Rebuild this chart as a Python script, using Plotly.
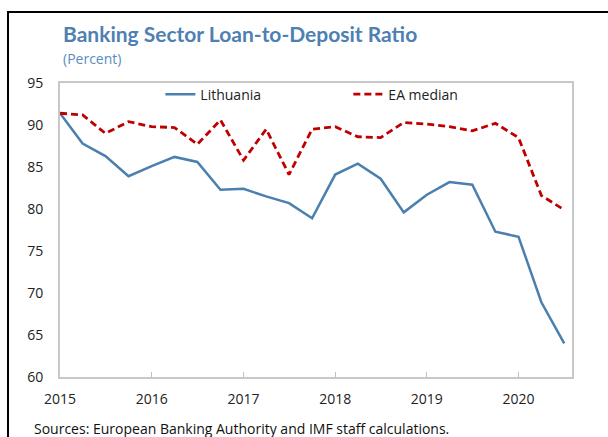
import pandas as pd
import plotly.graph_objects as go

QUARTERS = ['2015Q1', '2015Q2', '2015Q3', '2015Q4',
            '2016Q1', '2016Q2', '2016Q3', '2016Q4',
            '2017Q1', '2017Q2', '2017Q3', '2017Q4',
            '2018Q1', '2018Q2', '2018Q3', '2018Q4',
            '2019Q1', '2019Q2', '2019Q3', '2019Q4',
            '2020Q1', '2020Q2', '2020Q3']

LITHUANIA = [91.4, 87.8, 86.3, 83.9, 85.1, 86.2, 85.6, 82.3, 82.4, 81.5, 80.7, 78.9,
             84.1, 85.4, 83.6, 79.6, 81.7, 83.2, 82.9, 77.3, 76.7, 68.9, 64.0]

EA_MEDIAN = [91.4, 91.2, 89.0, 90.4, 89.8, 89.7, 87.7, 90.6, 85.8, 89.5, 84.1, 89.5,
             89.8, 88.6, 88.5, 90.3, 90.1, 89.8, 89.3, 90.2, 88.5, 81.6, 79.9]

YEARS = ['2015', '2016', '2017', '2018', '2019', '2020']

BLUE = '#4a7fb0'
RED = '#c00000'
FONT = 'Open Sans, Noto Sans, sans-serif'

dates = pd.PeriodIndex(QUARTERS, freq='Q').start_time

fig = go.Figure()
fig.add_trace(go.Scatter(x=dates, y=LITHUANIA, name='Lithuania', mode='lines',
                         line=dict(color=BLUE, width=2.5)))
fig.add_trace(go.Scatter(x=dates, y=EA_MEDIAN, name='EA median', mode='lines',
                         line=dict(color=RED, width=2.8, dash='7px,4px')))

# plot area: x 60..572, y 83..377 (pixels)
fig.update_layout(
    width=608, height=437,
    margin=dict(l=60, r=36, t=83, b=60),
    paper_bgcolor='white', plot_bgcolor='white',
    font=dict(family=FONT, size=14, color='#222'),
    showlegend=True,
    legend=dict(orientation='h', x=0.196, y=1.015, xanchor='left', yanchor='top',
                bgcolor='rgba(0,0,0,0)', font=dict(size=14, color='#222'),
                entrywidth=143, entrywidthmode='pixels'),
)
fig.update_xaxes(
    range=['2015-01-01', '2020-08-01'],
    tickvals=[f'{y}-01-01' for y in YEARS], ticktext=YEARS,
    ticks='inside', ticklen=5, tickcolor='#c0c0c0',
    showline=True, linecolor='#c8c8c8', linewidth=2, mirror=True,
    showgrid=False, zeroline=False, ticklabelstandoff=8,
)
fig.update_yaxes(
    range=[60, 95], dtick=5,
    showline=True, linecolor='#c8c8c8', linewidth=2, mirror=True,
    showgrid=False, zeroline=False, ticks='', ticklabelstandoff=12,
)

def px_x(p):
    return (p - 60) / 512

def px_y(p):
    return (377 - p) / 294

fig.add_annotation(text='<b>Banking Sector Loan-to-Deposit Ratio</b>', xref='paper', yref='paper',
                   x=px_x(61), y=px_y(34), xanchor='left', yanchor='middle', showarrow=False,
                   font=dict(family='Lato, sans-serif', size=21, color='#4e80b2'))
fig.add_annotation(text='(Percent)', xref='paper', yref='paper',
                   x=px_x(61), y=px_y(58), xanchor='left', yanchor='middle', showarrow=False,
                   font=dict(size=14, color='#5b8cc0'))
fig.add_annotation(text='Sources: European Banking Authority and IMF staff calculations.',
                   xref='paper', yref='paper', x=px_x(32), y=px_y(428),
                   xanchor='left', yanchor='middle', showarrow=False,
                   font=dict(size=14, color='#111'))

# outer frame of the panel
fig.add_shape(type='rect', xref='paper', yref='paper',
              x0=px_x(8), x1=px_x(620), y0=px_y(450), y1=px_y(12),
              line=dict(color='black', width=2))

# the browser's default 8px body margin would shift the figure
fig.write_html('out.html', config={'displayModeBar': False},
               post_script="document.body.style.margin='0';")
